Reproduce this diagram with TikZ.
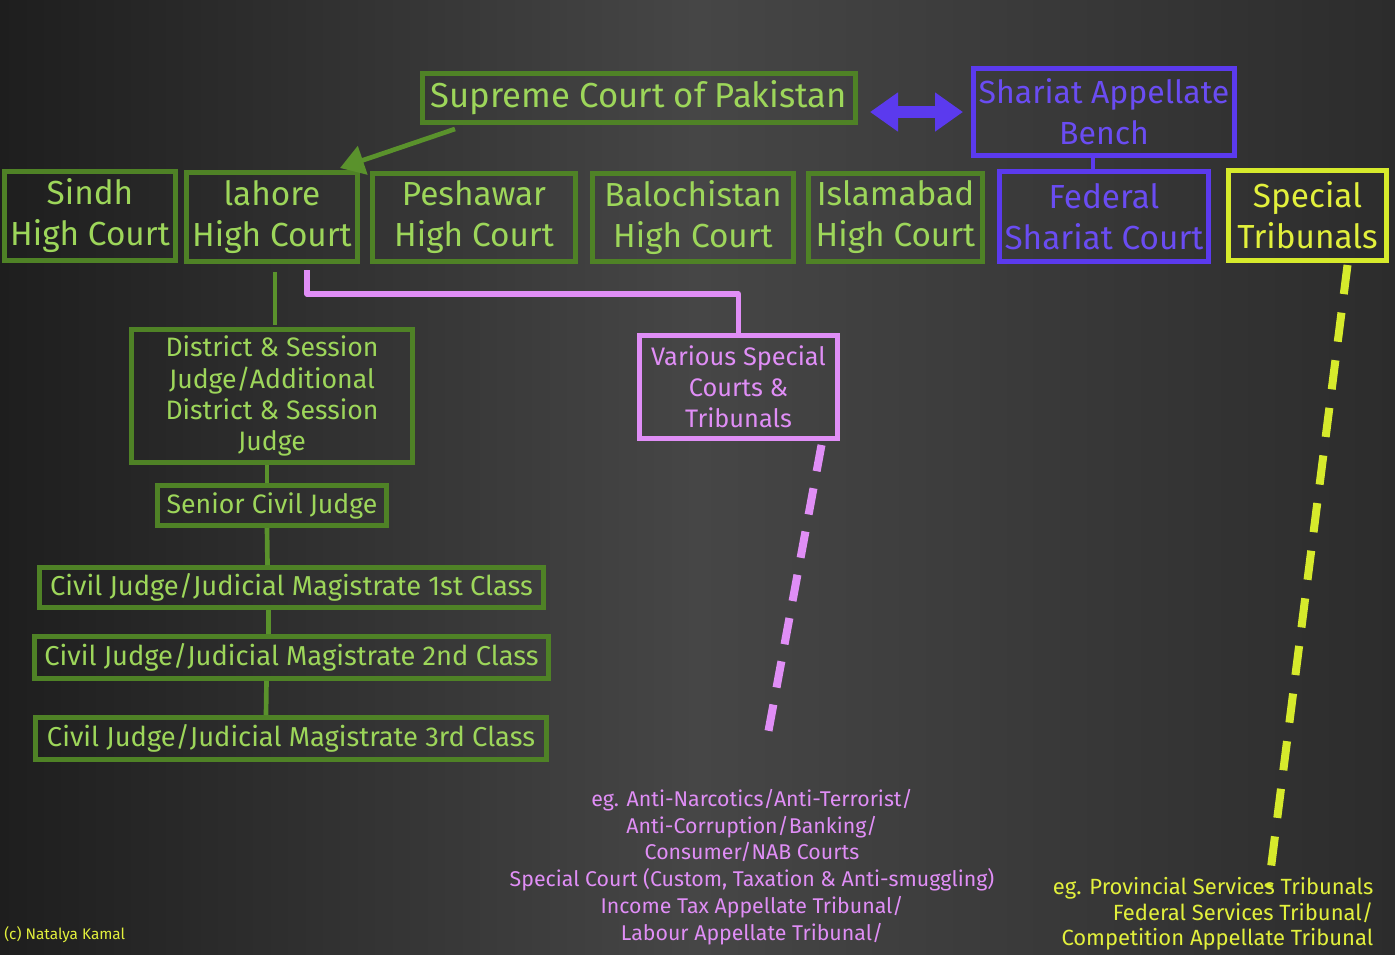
\documentclass[tikz,border=0pt]{standalone}
\usepackage{fontspec}
\setmainfont{Fira Sans}
\usetikzlibrary{arrows.meta,calc}
\definecolor{gborder}{HTML}{4F8226}
\definecolor{gtext}{HTML}{9DD65A}
\definecolor{gline}{HTML}{5A922C}
\definecolor{pborder}{HTML}{5B3AEE}
\definecolor{ptext}{HTML}{6A4CF2}
\definecolor{yborder}{HTML}{D6EA2C}
\definecolor{ytext}{HTML}{E2F03C}
\definecolor{pink}{HTML}{E08EF6}
\definecolor{bgdark}{HTML}{1E1E1E}
\definecolor{bgmid}{HTML}{464646}
\definecolor{bgright}{HTML}{2C2C2C}
\tikzset{
  box/.style={draw, line width=3.75pt, inner sep=0pt, align=center, rectangle},
  gbox/.style={box, draw=gborder, text=gtext},
  pbox/.style={box, draw=pborder, text=ptext},
  ybox/.style={box, draw=yborder, text=ytext},
  kbox/.style={box, draw=pink, text=pink},
  big/.style={font=\fontsize{25}{30.75}\selectfont},
  mid/.style={font=\fontsize{20}{23.3}\selectfont},
  gconn/.style={draw=gline, line width=3.5pt},
}
\begin{document}
\begin{tikzpicture}[x=0.75pt,y=-0.75pt]
\useasboundingbox (0,0) rectangle (1395,954);
\shade[shading=axis, shading angle=60, left color=bgdark, right color=bgright, middle color=bgmid] (0,0) rectangle (1395,954);

% top row
\node[gbox, minimum width=324.75pt, minimum height=36.75pt, font=\fontsize{26}{30}\selectfont] (supreme) at (639,98) {Supreme Court of Pakistan};
\node[pbox, font=\fontsize{24}{30.75}\selectfont, minimum width=195.75pt, minimum height=65.25pt] (sab) at (1104,112) {Shariat Appellate\\Bench};

\node[gbox, big, minimum width=128.25pt, minimum height=66.75pt] (sindh) at (90,216) {Sindh\\High Court};
\node[gbox, big, minimum width=128.25pt, minimum height=66.75pt] (lahore) at (272,217) {lahore\\High Court};
\node[gbox, big, minimum width=152.25pt, minimum height=66pt] (peshawar) at (474,217.5) {Peshawar\\High Court};
\node[gbox, big, minimum width=150.75pt, minimum height=66pt] (balochistan) at (693,217.5) {Balochistan\\High Court};
\node[gbox, big, minimum width=130.5pt, minimum height=66pt] (islamabad) at (895.5,217.5) {Islamabad\\High Court};
\node[pbox, big, minimum width=156.75pt, minimum height=67.5pt] (fsc) at (1104,216.5) {Federal\\Shariat Court};
\node[ybox, big, minimum width=118.5pt, minimum height=67.5pt] (special) at (1307.5,215.5) {Special\\Tribunals};

% lower hierarchy
\node[gbox, mid, minimum width=210.75pt, minimum height=99.75pt] (district) at (272,396) {District \& Session\\Judge/Additional\\District \& Session\\Judge};
\node[gbox, mid, minimum width=171.75pt, minimum height=30pt] (senior) at (272,505.5) {Senior Civil Judge};
\node[gbox, font=\fontsize{20.5}{24}\selectfont, minimum width=378pt, minimum height=30pt] (civil1) at (291.5,587.5) {Civil Judge/Judicial Magistrate 1st Class};
\node[gbox, font=\fontsize{20.5}{24}\selectfont, minimum width=385.5pt, minimum height=31.5pt] (civil2) at (291.5,657.5) {Civil Judge/Judicial Magistrate 2nd Class};
\node[gbox, font=\fontsize{20.5}{24}\selectfont, minimum width=383.25pt, minimum height=31.5pt] (civil3) at (291,738.5) {Civil Judge/Judicial Magistrate 3rd Class};
\node[kbox, font=\fontsize{19}{23.3}\selectfont, minimum width=148.5pt, minimum height=77.25pt] (various) at (738.5,387) {Various Special\\Courts \&\\Tribunals};

% example texts
\node[text=pink, align=center, font=\fontsize{16}{20.1}\selectfont] (pinktext) at (752,867) {eg. Anti-Narcotics/Anti-Terrorist/\\Anti-Corruption/Banking/\\Consumer/NAB Courts\\Special Court (Custom, Taxation \& Anti-smuggling)\\Income Tax Appellate Tribunal/\\Labour Appellate Tribunal/};
\node[text=ytext, align=right, anchor=east, font=\fontsize{16.5}{19}\selectfont] (yeltext) at (1378,914) {eg. Provincial Services Tribunals\\Federal Services Tribunal/\\Competition Appellate Tribunal};
\node[text=ytext, anchor=west, font=\fontsize{11.5}{13}\selectfont, inner sep=0pt] (copy) at (4,935) {(c) Natalya Kamal};

% connectors
\draw[pborder, line width=9pt, {Triangle[length=21pt,width=28pt]}-{Triangle[length=21pt,width=28pt]}, shorten <=9pt, shorten >=6pt] (supreme.east |- sab.west) -- (sab.west);
\draw[gconn, -{Triangle[length=18pt,width=22pt]}] ($(supreme.south west)+(35,4)$) -- ($(lahore.north)+(68,-2)$);
\draw[pborder, line width=3pt] ($(sab.south)+(-11,0)$) -- ($(fsc.north)+(-11,0)$);

\draw[gconn] ($(lahore.south)+(3,8)$) -- ($(district.north)+(3,-2)$);
\draw[gconn] ($(district.south)+(-5,0)$) -- ($(senior.north)+(-5,0)$);
\draw[gconn] ($(senior.south)+(-5,0)$) -- ($(civil1.north)+(-24,0)$);
\draw[gconn] ($(civil1.south)+(-23,0)$) -- ($(civil2.north)+(-23,0)$);
\draw[gconn] ($(civil2.south)+(-25,0)$) -- ($(civil3.north)+(-25,0)$);

\draw[pink, line width=4pt, line join=round] ($(lahore.south)+(35,6)$) -- ++(0,24) -| (various.north);
\draw[pink, line width=6pt, dash pattern=on 20pt off 13pt] ($(various.south)+(83,4)$) -- ($(various.south)+(27,306)$);
\draw[yborder, line width=6pt, dash pattern=on 22pt off 14pt] ($(special.south)+(40,2)$) -- ($(special.south)+(-39,624)$);
\end{tikzpicture}
\end{document}
